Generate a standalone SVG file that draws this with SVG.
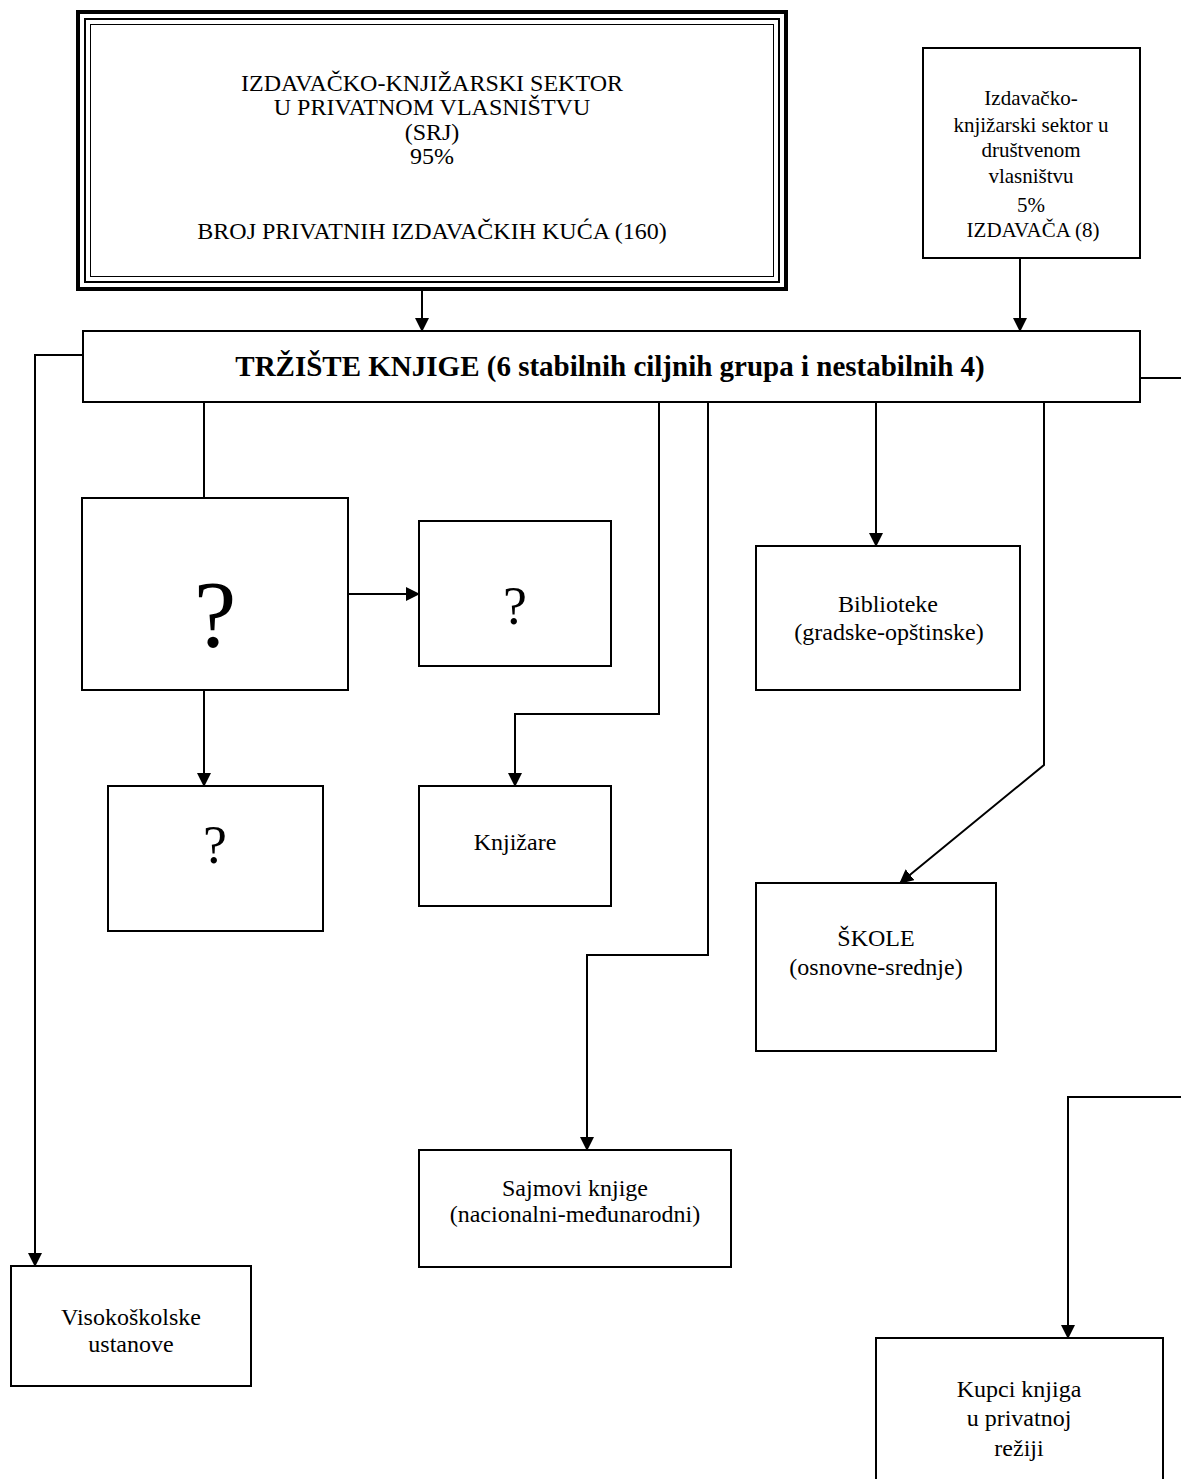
<svg xmlns="http://www.w3.org/2000/svg" width="1181" height="1479" viewBox="0 0 1181 1479">
<style>
.box{fill:#fff;stroke:#000;stroke-width:2}
.t{font-family:"Liberation Serif","Times New Roman",serif;font-size:24px;text-anchor:middle;fill:#000}
.s{font-family:"Liberation Serif","Times New Roman",serif;font-size:21px;text-anchor:middle;fill:#000}
.b{font-family:"Liberation Serif","Times New Roman",serif;font-size:29px;font-weight:bold;text-anchor:middle;fill:#000}
.q{font-family:"Liberation Serif","Times New Roman",serif;text-anchor:middle;fill:#000}
.c{fill:none;stroke:#000;stroke-width:2}
</style>
<defs>
<marker id="ah" markerWidth="14" markerHeight="14" refX="13" refY="7" orient="auto" markerUnits="userSpaceOnUse">
<path d="M0,0 L14,7 L0,14 Z" fill="#000"/>
</marker>
</defs>
<rect width="1181" height="1479" fill="#fff"/>
<g id="connectors">
<path class="c" d="M422,291 V331" marker-end="url(#ah)"/>
<path class="c" d="M1020,258 V331" marker-end="url(#ah)"/>
<path class="c" d="M83,355 H35 V1266" marker-end="url(#ah)"/>
<path class="c" d="M1140,378 H1181"/>
<path class="c" d="M1181,1097 H1068 V1338" marker-end="url(#ah)"/>
<path class="c" d="M204,402 V498"/>
<path class="c" d="M348,594 H419" marker-end="url(#ah)"/>
<path class="c" d="M204,690 V786" marker-end="url(#ah)"/>
<path class="c" d="M659,402 V714 H515 V786" marker-end="url(#ah)"/>
<path class="c" d="M708,402 V955 H587 V1150" marker-end="url(#ah)"/>
<path class="c" d="M876,402 V546" marker-end="url(#ah)"/>
<path class="c" d="M1044,402 V765 L900,883" marker-end="url(#ah)"/>
</g>
<g id="privatni">
<rect x="78" y="12" width="708" height="277" fill="#fff" stroke="#000" stroke-width="4"/>
<rect x="85" y="19" width="694" height="263" fill="none" stroke="#000" stroke-width="2"/>
<rect x="90.5" y="24.5" width="683" height="252" fill="none" stroke="#000" stroke-width="1"/>
<text class="t" x="432" y="91">IZDAVAČKO-KNJIŽARSKI SEKTOR</text>
<text class="t" x="432" y="115">U PRIVATNOM VLASNIŠTVU</text>
<text class="t" x="432" y="140">(SRJ)</text>
<text class="t" x="432" y="164">95%</text>
<text class="t" x="432" y="239">BROJ PRIVATNIH IZDAVAČKIH KUĆA (160)</text>
</g>
<g id="drustveni">
<rect class="box" x="923" y="48" width="217" height="210"/>
<text class="s" x="1031" y="105">Izdavačko-</text>
<text class="s" x="1031" y="132">knjižarski sektor u</text>
<text class="s" x="1031" y="157">društvenom</text>
<text class="s" x="1031" y="183">vlasništvu</text>
<text class="s" x="1031" y="212">5%</text>
<text class="s" x="1033" y="237">IZDAVAČA (8)</text>
</g>
<g id="trziste">
<rect class="box" x="83" y="331" width="1057" height="71"/>
<text class="b" x="610" y="376">TRŽIŠTE KNJIGE (6 stabilnih ciljnih grupa i nestabilnih 4)</text>
</g>
<g id="q1">
<rect class="box" x="82" y="498" width="266" height="192"/>
<text class="q" x="215" y="647" style="font-size:95px">?</text>
</g>
<g id="q2">
<rect class="box" x="419" y="521" width="192" height="145"/>
<text class="q" x="515" y="624" style="font-size:54px">?</text>
</g>
<g id="q3">
<rect class="box" x="108" y="786" width="215" height="145"/>
<text class="q" x="215" y="863" style="font-size:54px">?</text>
</g>
<g id="knjizare">
<rect class="box" x="419" y="786" width="192" height="120"/>
<text class="t" x="515" y="850">Knjižare</text>
</g>
<g id="sajmovi">
<rect class="box" x="419" y="1150" width="312" height="117"/>
<text class="t" x="575" y="1196">Sajmovi knjige</text>
<text class="t" x="575" y="1222">(nacionalni-međunarodni)</text>
</g>
<g id="biblioteke">
<rect class="box" x="756" y="546" width="264" height="144"/>
<text class="t" x="888" y="612">Biblioteke</text>
<text class="t" x="889" y="640">(gradske-opštinske)</text>
</g>
<g id="skole">
<rect class="box" x="756" y="883" width="240" height="168"/>
<text class="t" x="876" y="946">ŠKOLE</text>
<text class="t" x="876" y="975">(osnovne-srednje)</text>
</g>
<g id="visokoskolske">
<rect class="box" x="11" y="1266" width="240" height="120"/>
<text class="t" x="131" y="1325">Visokoškolske</text>
<text class="t" x="131" y="1352">ustanove</text>
</g>
<g id="kupci">
<rect class="box" x="876" y="1338" width="287" height="200"/>
<text class="t" x="1019" y="1397">Kupci knjiga</text>
<text class="t" x="1019" y="1426">u privatnoj</text>
<text class="t" x="1019" y="1456">režiji</text>
</g>
</svg>
